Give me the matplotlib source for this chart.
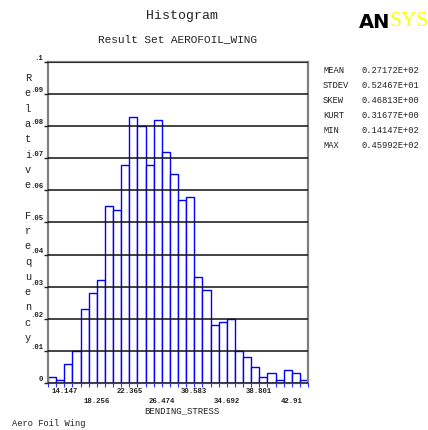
import numpy as np
import matplotlib
matplotlib.use("Agg")
import matplotlib.pyplot as plt

# relative frequency per bin
freq = [0.002, 0.001, 0.006, 0.010, 0.023, 0.028, 0.032, 0.055,
        0.054, 0.068, 0.083, 0.080, 0.068, 0.082, 0.072, 0.065,
        0.057, 0.058, 0.033, 0.029, 0.018, 0.019, 0.020, 0.010,
        0.008, 0.005, 0.002, 0.003, 0.001, 0.004, 0.003, 0.001]
xtick_vals = [14.147, 18.256, 22.365, 26.474, 30.583, 34.692, 38.801, 42.91]
ytick_vals = [0, .01, .02, .03, .04, .05, .06, .07, .08, .09, .1]
ytick_labels = ['0', '.01', '.02', '.03', '.04', '.05', '.06', '.07', '.08', '.09', '.1']
stat_names = ['MEAN', 'STDEV', 'SKEW', 'KURT', 'MIN', 'MAX']
stat_vals = ['0.27172E+02', '0.52467E+01', '0.46813E+00',
             '0.31677E+00', '0.14147E+02', '0.45992E+02']

W, H = 428, 430
mono = 'Liberation Mono'

# bins: one labelled tick every 4 bins, first label on the 3rd bin edge
bw = (xtick_vals[1] - xtick_vals[0]) / 4
edges = xtick_vals[0] - 2 * bw + bw * np.arange(len(freq) + 1)

fig = plt.figure(figsize=(W / 100, H / 100), dpi=100)
ax = fig.add_axes([48 / W, 47 / H, 260 / W, 321 / H])

ax.bar(edges[:-1], freq, width=bw, align='edge', facecolor='white',
       edgecolor='#0000ff', linewidth=1.0, zorder=1)

ax.set_xlim(edges[0], edges[-1])
ax.set_ylim(0, 0.1)

ax.set_axisbelow(False)
ax.set_yticks(ytick_vals)
ax.set_yticklabels(ytick_labels, fontsize=5.3, family=mono, va='bottom',
                   color='#222', fontweight='bold')
ax.tick_params(axis='y', length=3, width=1, color='#222', pad=0.5)
ax.grid(axis='y', color='#111', linewidth=1.1)

ax.set_xticks(edges)
ax.set_xticklabels([])
ax.tick_params(axis='x', length=3, width=0.8, color='#3030ff')

for i, v in enumerate(xtick_vals):
    off = -6.3 if i % 2 == 0 else -13.5
    ax.annotate(str(v), xy=(v, 0), xycoords=('data', 'axes fraction'),
                xytext=(0, off), textcoords='offset points',
                ha='center', va='center', fontsize=5.3, family=mono,
                color='#222', fontweight='bold')

for s in ['left', 'top', 'right']:
    ax.spines[s].set_color('#808080')
    ax.spines[s].set_linewidth(1.6)
ax.spines['bottom'].set_color('#3030ff')
ax.spines['bottom'].set_linewidth(0.8)

# vertical stacked y label
ylab = 'Relative Frequency'
for i, ch in enumerate(ylab):
    fig.text(28 / W, 1 - (78 + i * 15.3) / H, ch, ha='center', va='center',
             fontsize=7.5, family=mono, color='#222')

fig.text(182 / W, 1 - 16 / H, 'Histogram', ha='center', va='center',
         fontsize=9.5, family=mono, color='#222')
fig.text(178 / W, 1 - 39 / H, 'Result Set AEROFOIL_WING', ha='center', va='center',
         fontsize=8, family=mono, color='#222')
fig.text(182 / W, 1 - 411 / H, 'BENDING_STRESS', ha='center', va='center',
         fontsize=6.5, family=mono, color='#222')
fig.text(12 / W, 1 - 424 / H, 'Aero Foil Wing', ha='left', va='center',
         fontsize=6.3, family=mono, color='#222')

for i, (n, v) in enumerate(zip(stat_names, stat_vals)):
    y = 1 - (70 + i * 15.2) / H
    fig.text(323 / W, y, n, ha='left', va='center', fontsize=6.3, family=mono, color='#222')
    fig.text(361 / W, y, v, ha='left', va='center', fontsize=6.3, family=mono, color='#222')

# ANSYS logo
fig.text(390 / W, 1 - 22 / H, 'AN', ha='right', va='center', fontsize=14,
         fontweight='black', family='DejaVu Sans', color='black')
fig.text(390 / W, 1 - 22 / H, 'SYS', ha='left', va='center', fontsize=15.5,
         family='Liberation Serif', color='#ffff00')

fig.savefig('out.png', dpi=100)
